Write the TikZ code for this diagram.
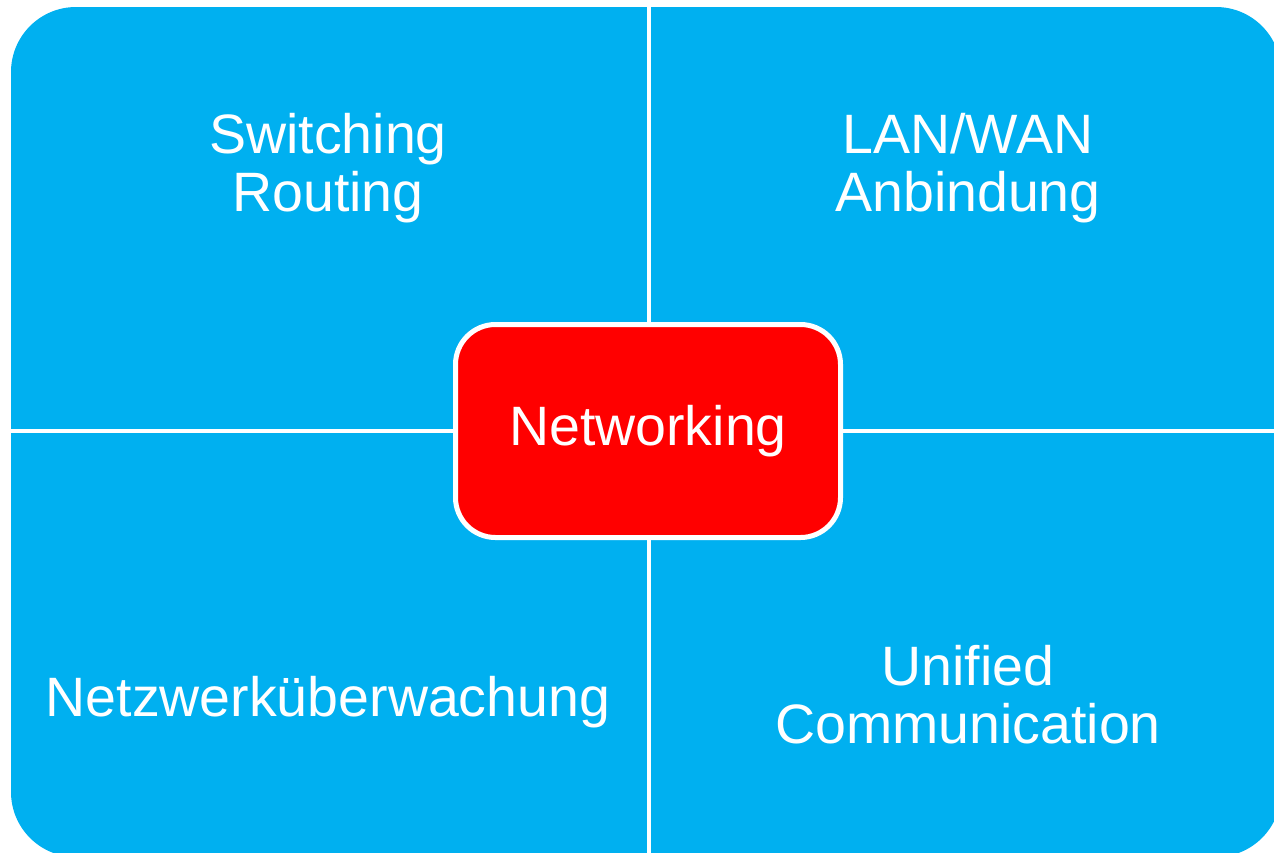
\documentclass[tikz,border=0pt]{standalone}
\usepackage{fontspec}
\setmainfont{Liberation Sans}
\definecolor{quadblue}{HTML}{00B0F0}
\definecolor{hubred}{HTML}{FF0000}
\tikzset{
	quadtext/.style={text=white,align=center,inner sep=0pt,font=\fontsize{55.5}{58}\selectfont},
	hub/.style={fill=hubred,draw=white,line width=5pt,rounded corners=40pt,minimum width=385pt,minimum height=213pt,text=white,font=\fontsize{55.5}{58}\selectfont}
}
\begin{document}
\begin{tikzpicture}[x=1pt,y=-1pt]
	\useasboundingbox (0,0) rectangle (1274,852);
	\clip (0,0) rectangle (1274,852);
	\fill[quadblue,rounded corners=65pt] (11,7) rectangle (1281,857);
	\draw[white,line width=4pt] (649,0) -- (649,860);
	\draw[white,line width=4pt] (0,431) -- (1290,431);
	\node[quadtext] (SR) at (328,168) {Switching\\Routing};
	\node[quadtext] (LW) at (968,168) {LAN/WAN\\Anbindung};
	\node[quadtext] (NU) at (328,702) {Netzwerküberwachung};
	\node[quadtext] (UC) at (968,695) {Unified\\Communication};
	\node[hub] (NW) at (648,431) {\raisebox{-2pt}{Networking}};
\end{tikzpicture}
\end{document}
